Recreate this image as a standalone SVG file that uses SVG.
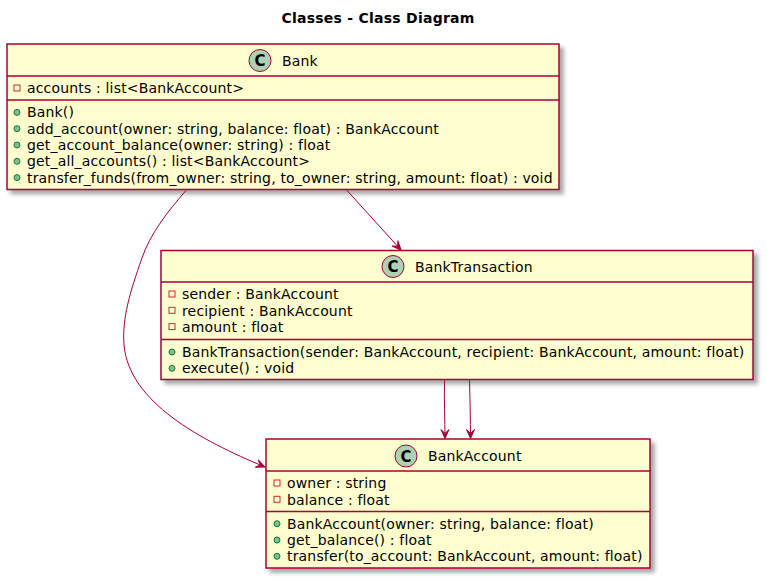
<svg xmlns="http://www.w3.org/2000/svg" width="767" height="581" viewBox="0 0 767 581">
<style>
text{font-family:"DejaVu Sans","Liberation Sans",sans-serif;font-size:14px;fill:#000;letter-spacing:0.17px}
.title{font-weight:bold;text-anchor:middle;letter-spacing:0.25px}
.box{fill:#FEFECE;stroke:#A80036;stroke-width:1.5}
.sep{stroke:#A80036;stroke-width:1.5}
.ci{fill:#ADD1B2;stroke:#A80036;stroke-width:1}
.cl{font-weight:bold;font-size:15px;text-anchor:middle;letter-spacing:0}
.priv{fill:none;stroke:#C82930;stroke-width:1}
.pub{fill:#84BE84;stroke:#038048;stroke-width:1}
.edge{fill:none;stroke:#A80036;stroke-width:1}
</style>
<defs>
<filter id="sh" x="-10%" y="-10%" width="130%" height="130%">
<feGaussianBlur in="SourceAlpha" stdDeviation="2"/>
<feOffset dx="4" dy="4" result="b"/>
<feComponentTransfer><feFuncA type="linear" slope="0.35"/></feComponentTransfer>
<feMerge><feMergeNode/><feMergeNode in="SourceGraphic"/></feMerge>
</filter>
<marker id="arr" markerUnits="userSpaceOnUse" markerWidth="12" markerHeight="10" viewBox="-10 -5 11 10" refX="0" refY="0" orient="auto">
<path d="M0,0 L-9,-4 L-5,0 L-9,4 Z" fill="#A80036" stroke="#A80036" stroke-width="1"/>
</marker>
</defs>
<rect width="767" height="581" fill="#fff"/>
<text class="title" x="378" y="23">Classes - Class Diagram</text>

<g id="Bank">
<rect class="box" x="7" y="44" width="552" height="145.5" filter="url(#sh)"/>
<circle class="ci" cx="260" cy="60.5" r="11"/>
<text class="cl" x="260" y="66">C</text>
<text x="282" y="65.5">Bank</text>
<line class="sep" x1="7" y1="76" x2="559" y2="76"/>
<rect class="priv" x="14" y="85" width="6" height="6"/>
<text x="27" y="93.4">accounts : list&lt;BankAccount&gt;</text>
<line class="sep" x1="7" y1="100" x2="559" y2="100"/>
<circle class="pub" cx="17" cy="112.4" r="3"/>
<text x="27" y="117.4">Bank()</text>
<circle class="pub" cx="17" cy="128.7" r="3"/>
<text x="27" y="133.7">add_account(owner: string, balance: float) : BankAccount</text>
<circle class="pub" cx="17" cy="145" r="3"/>
<text x="27" y="150">get_account_balance(owner: string) : float</text>
<circle class="pub" cx="17" cy="161.3" r="3"/>
<text x="27" y="166.3">get_all_accounts() : list&lt;BankAccount&gt;</text>
<circle class="pub" cx="17" cy="177.6" r="3"/>
<text x="27" y="182.6">transfer_funds(from_owner: string, to_owner: string, amount: float) : void</text>
</g>

<g id="BankTransaction">
<rect class="box" x="161" y="250.5" width="592" height="129" filter="url(#sh)"/>
<circle class="ci" cx="393" cy="266.5" r="11"/>
<text class="cl" x="393" y="272">C</text>
<text x="415" y="271.5">BankTransaction</text>
<line class="sep" x1="161" y1="282" x2="753" y2="282"/>
<rect class="priv" x="169" y="291" width="6" height="6"/>
<text x="182" y="299.4">sender : BankAccount</text>
<rect class="priv" x="169" y="307.3" width="6" height="6"/>
<text x="182" y="315.7">recipient : BankAccount</text>
<rect class="priv" x="169" y="323.6" width="6" height="6"/>
<text x="182" y="332">amount : float</text>
<line class="sep" x1="161" y1="339.5" x2="753" y2="339.5"/>
<circle class="pub" cx="172" cy="352" r="3"/>
<text x="182" y="357">BankTransaction(sender: BankAccount, recipient: BankAccount, amount: float)</text>
<circle class="pub" cx="172" cy="368.3" r="3"/>
<text x="182" y="373.3">execute() : void</text>
</g>

<g id="BankAccount">
<rect class="box" x="266" y="439" width="384" height="129" filter="url(#sh)"/>
<circle class="ci" cx="406" cy="456" r="11"/>
<text class="cl" x="406" y="461.5">C</text>
<text x="428" y="461">BankAccount</text>
<line class="sep" x1="266" y1="471" x2="650" y2="471"/>
<rect class="priv" x="274" y="480" width="6" height="6"/>
<text x="287" y="488.4">owner : string</text>
<rect class="priv" x="274" y="496.3" width="6" height="6"/>
<text x="287" y="504.7">balance : float</text>
<line class="sep" x1="266" y1="511.5" x2="650" y2="511.5"/>
<circle class="pub" cx="277" cy="523.7" r="3"/>
<text x="287" y="528.7">BankAccount(owner: string, balance: float)</text>
<circle class="pub" cx="277" cy="540" r="3"/>
<text x="287" y="545">get_balance() : float</text>
<circle class="pub" cx="277" cy="556.3" r="3"/>
<text x="287" y="561.3">transfer(to_account: BankAccount, amount: float)</text>
</g>

<g id="connectors">
<path class="edge" d="M186,190.5 C168,211 150,234 142,258 C130,292 122,318 124,345 C129,402 200,440 265,467" marker-end="url(#arr)"/>
<path class="edge" d="M347,190.5 L401,250" marker-end="url(#arr)"/>
<path class="edge" d="M444.5,380 C444,400 445,420 445,438.5" marker-end="url(#arr)"/>
<path class="edge" d="M469.5,380 C470,400 470.5,420 470.5,438.5" marker-end="url(#arr)"/>
</g>
</svg>
